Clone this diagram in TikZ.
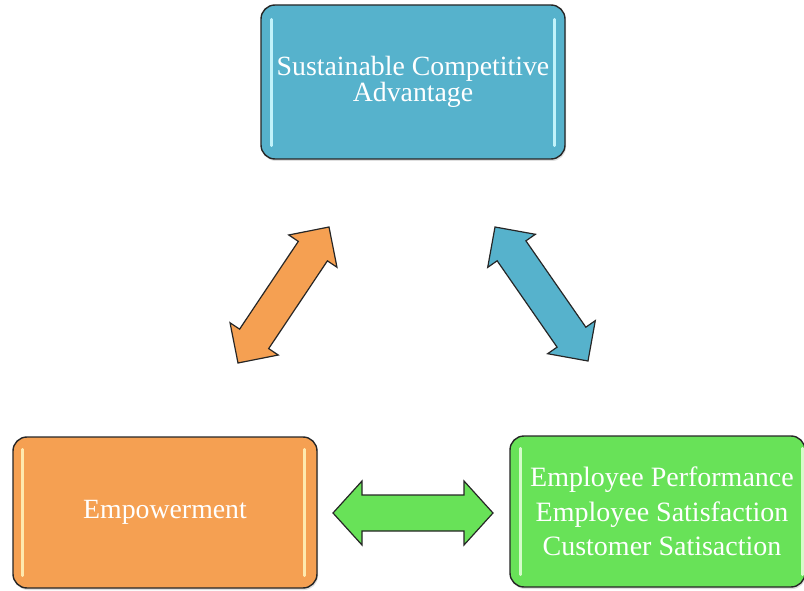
\documentclass[tikz,border=0pt]{standalone}
\usepackage{fontspec}
\setmainfont{Liberation Serif}
\usetikzlibrary{calc,shadows}
\definecolor{cblue}{RGB}{86,178,204}
\definecolor{corange}{RGB}{245,160,82}
\definecolor{cgreen}{RGB}{104,226,88}
\definecolor{barblue}{RGB}{205,250,255}
\definecolor{barorange}{RGB}{255,242,185}
\definecolor{bargreen}{RGB}{225,255,215}
\newcommand\dblarrowpath[5]{(#1) -- ($(#1)!#3!(#2)!#4!90:(#2)$) -- ($(#1)!#3!(#2)!#5!90:(#2)$) -- ($(#2)!#3!(#1)!#5!-90:(#1)$) -- ($(#2)!#3!(#1)!#4!-90:(#1)$) -- (#2) -- ($(#2)!#3!(#1)!#4!90:(#1)$) -- ($(#2)!#3!(#1)!#5!90:(#1)$) -- ($(#1)!#3!(#2)!#5!-90:(#2)$) -- ($(#1)!#3!(#2)!#4!-90:(#2)$) -- cycle}
\begin{document}
\begin{tikzpicture}[x=1pt,y=-1pt,
  box/.style={draw=black!85, line width=1.4pt, rounded corners=14pt, text=white,
    align=center, inner sep=0pt, font=\fontsize{27.8}{25.5}\selectfont,
    drop shadow={opacity=0.25, shadow xshift=1pt, shadow yshift=-2pt}},
  bar/.style={line width=2.6pt, line cap=round, opacity=0.9},
  blockarrow/.style={draw=black!85, line width=1.2pt, line join=miter}]
\useasboundingbox (0,0) rectangle (804,591);

\node[box, fill=cblue, minimum width=304pt, minimum height=154pt] (sca) at (413,82)
  {Sustainable Competitive\\Advantage};
\node[box, fill=corange, minimum width=304pt, minimum height=151pt] (emp) at (165,512.5)
  {Empowerment};
\node[box, fill=cgreen, minimum width=295pt, minimum height=151pt,
  font=\fontsize{28}{34.5}\selectfont] (perf) at (657.5,511.5)
  {\hspace*{9pt}Employee Performance\\\hspace*{9pt}Employee Satisfaction\\\hspace*{9pt}Customer Satisaction};

% highlight bars
\draw[bar, barblue] ($(sca.north west)+(11,15)$) -- ($(sca.south west)+(11,-14)$);
\draw[bar, barblue] ($(sca.north east)+(-11,15)$) -- ($(sca.south east)+(-11,-14)$);
\draw[bar, barorange] ($(emp.north west)+(10,13)$) -- ($(emp.south west)+(10,-13)$);
\draw[bar, barorange] ($(emp.north east)+(-13,13)$) -- ($(emp.south east)+(-13,-13)$);
\draw[bar, bargreen] ($(perf.north west)+(11,13)$) -- ($(perf.south west)+(11,-13)$);
\draw[bar, bargreen] ($(perf.north east)+(-3,13)$) -- ($(perf.south east)+(-3,-13)$);

% arrow tips
\coordinate (o1) at (329,227);
\coordinate (o2) at (238,363);
\coordinate (b1) at (495,227);
\coordinate (b2) at (588,361);
\coordinate (g1) at (333,513);
\coordinate (g2) at (493,513);

\draw[blockarrow, fill=corange] \dblarrowpath{o1}{o2}{29pt}{29pt}{17.5pt};
\draw[blockarrow, fill=cblue] \dblarrowpath{b1}{b2}{29pt}{29pt}{17.5pt};
\draw[blockarrow, fill=cgreen] \dblarrowpath{g1}{g2}{29pt}{32pt}{18pt};
\end{tikzpicture}
\end{document}
